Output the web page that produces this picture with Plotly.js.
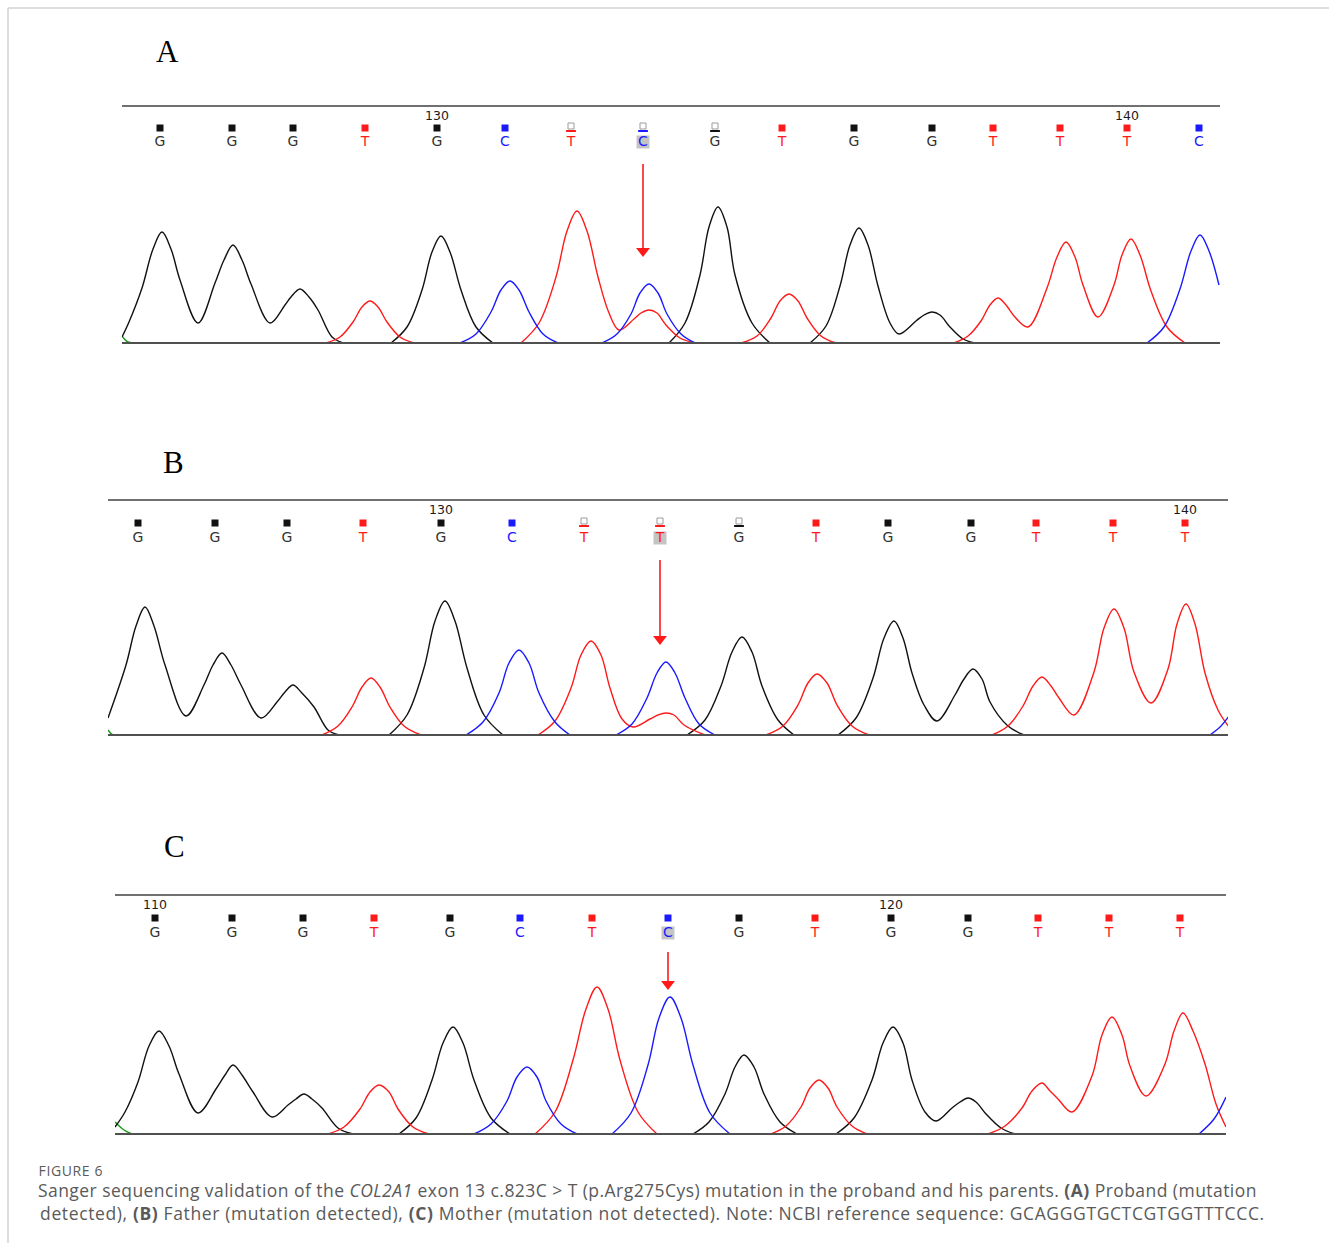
<!DOCTYPE html>
<html>
<head>
<meta charset="utf-8">
<script src="https://cdn.plot.ly/plotly-3.0.1.min.js"></script>
<style>
  html, body { margin: 0; padding: 0; background: #fff; }
  #chart { width: 1329px; height: 1243px; }
</style>
</head>
<body>
<div id="chart"></div>
<script>
// ---------------- DATA ----------------
// x = scan position along the trace, y = signal intensity above baseline.

// Panel A – proband
const A_bases    = ['G','G','G','T','G','C','T','C','G','T','G','G','T','T','T','C'];
const A_basePos  = [160,232,293,365,437,505,571,643,715,782,854,932,993,1060,1127,1199];
const A_lowQual  = [0,0,0,0,0,0,1,1,1,0,0,0,0,0,0,0];
const A_numLabels = ['130','140'];
const A_numPos    = [437,1127];
const A_mutIndex  = 7;
const A_G_x = [122,129,142,153,162,171,180,198,215,224,233,242,251,270,285,291,300,309,318,332,343,null,
               391,407,422,432,441,450,461,476,493,null,
               669,685,700,709,718,727,735,752,770,null,
               810,826,840,850,859,868,878,890,899,916,924,932,940,950,963,975];
const A_G_y = [6,21,55,94,111,94,63,20,60,83,98,83,59,20,38,46,54,46,33,6,0,null,
               0,16,53,91,107,91,53,16,0,null,
               0,20,68,116,136,116,68,20,0,null,
               0,17,57,98,115,98,57,20,9,22,28,31,28,16,4,0];
const A_T_x = [326,340,353,362,370,378,387,400,414,null,
               521,539,556,567,577,587,598,609,619,634,641,649,657,666,680,695,null,
               741,757,771,780,789,798,807,821,836,null,
               954,968,981,990,998,1006,1014,1028,1047,1057,1066,1075,1083,1098,1114,1122,1131,1140,1151,1167,1185];
const A_T_y = [0,6,21,36,42,36,21,6,0,null,
               0,20,66,112,132,112,66,30,13,24,30,33,30,18,5,0,null,
               0,7,25,42,49,42,25,7,0,null,
               0,7,22,38,45,38,27,16,55,86,101,86,58,26,58,88,104,88,52,16,0];
const A_C_x = [460,476,491,501,510,519,529,543,558,null,
               602,617,631,640,649,658,667,681,695,null,
               1147,1164,1180,1191,1200,1209,1219];
const A_C_y = [0,9,31,53,62,53,31,9,0,null,
               0,9,29,50,59,50,29,9,0,null,
               0,16,54,92,108,92,58];
const A_A_x = [122,128,139];
const A_A_y = [7,1,0];

// Panel B – father
const B_bases    = ['G','G','G','T','G','C','T','T','G','T','G','G','T','T','T'];
const B_basePos  = [138,215,287,363,441,512,584,660,739,816,888,971,1036,1113,1185];
const B_lowQual  = [0,0,0,0,0,0,1,1,1,0,0,0,0,0,0];
const B_numLabels = ['130','140'];
const B_numPos    = [441,1185];
const B_mutIndex  = 7;
const B_G_x = [108,126,136,145,154,165,186,204,213,222,231,241,261,277,285,293,301,314,328,339,null,
               389,407,424,435,445,455,467,484,503,null,
               687,705,721,732,742,752,762,778,794,null,
               838,856,873,884,894,903,912,924,937,955,964,973,982,990,1008,1024];
const B_G_y = [17,70,109,128,109,70,19,50,70,82,70,50,17,33,43,50,43,28,5,0,null,
               0,20,67,114,134,114,67,20,0,null,
               0,15,49,83,98,83,49,15,0,null,
               0,17,57,97,114,97,62,30,14,40,56,66,56,33,9,0];
const B_T_x = [322,338,352,362,371,380,390,404,421,null,
               538,555,571,581,591,601,610,622,633,650,658,666,674,684,705,null,
               766,783,798,808,817,827,837,852,869,null,
               992,1008,1023,1033,1042,1051,1059,1074,1094,1104,1114,1124,1134,1151,1168,1177,1186,1195,1205,1218,1229];
const B_T_y = [0,9,28,48,57,48,28,9,0,null,
               0,14,47,80,94,80,47,16,8,16,20,22,20,10,0,null,
               0,9,30,52,61,52,30,9,0,null,
               0,9,29,49,58,49,37,20,63,107,126,107,63,32,66,111,131,111,62,25,8];
const B_C_x = [466,483,499,509,519,529,539,555,570,null,
               616,632,647,657,666,675,685,699,715,null,
               1210,1220,1229];
const B_C_y = [0,13,42,72,85,72,42,13,0,null,
               0,11,37,62,73,62,37,11,0,null,
               0,8,19];
const B_A_x = [108,113,121];
const B_A_y = [5,0,0];

// Panel C – mother
const C_bases    = ['G','G','G','T','G','C','T','C','G','T','G','G','T','T','T'];
const C_basePos  = [155,232,303,374,450,520,592,668,739,815,891,968,1038,1109,1180];
const C_lowQual  = [0,0,0,0,0,0,0,0,0,0,0,0,0,0,0];
const C_numLabels = ['110','120'];
const C_numPos    = [155,891];
const C_mutIndex  = 7;
const C_G_x = [115,125,138,149,159,169,179,198,216,225,233,242,253,272,288,296,304,312,322,338,353,null,
               399,416,432,443,453,463,474,491,510,null,
               693,709,725,735,744,754,764,780,797,null,
               836,854,872,883,893,903,912,925,936,952,960,968,976,986,1001,1015];
const C_G_y = [7,22,52,88,103,88,60,21,45,59,69,59,42,17,29,35,40,35,26,6,0,null,
               0,16,54,91,107,91,54,16,0,null,
               0,12,40,67,79,67,40,12,0,null,
               0,16,54,91,107,91,54,22,13,26,32,36,32,20,6,0];
const C_T_x = [328,344,360,370,379,389,398,413,429,null,
               535,555,573,586,597,608,620,638,657,null,
               771,786,801,810,819,828,837,852,867,null,
               988,1005,1022,1032,1042,1050,1058,1072,1092,1102,1112,1122,1130,1146,1165,1174,1183,1193,1205,1216,1226];
const C_T_y = [0,7,25,42,49,42,25,7,0,null,
               0,22,74,125,147,125,74,22,0,null,
               0,8,27,46,54,46,27,8,0,null,
               0,8,26,43,51,43,35,22,58,99,117,99,68,38,70,103,121,103,70,30,7];
const C_C_x = [474,491,507,517,527,537,546,561,577,null,
               612,631,648,659,670,681,693,710,730,null,
               1199,1214,1226];
const C_C_y = [0,10,33,57,67,57,33,10,0,null,
               0,21,69,116,137,116,69,21,0,null,
               0,15,37];
const C_A_x = [115,124,132];
const C_A_y = [12,4,0];

// ---------------- STYLE / LAYOUT ----------------
const W = 1329, H = 1243;
const channelColor = { G: '#111111', T: '#ff1a1a', C: '#1a1aff', A: '#1a9a1a' };

const panels = [
  { label: 'A', bases: A_bases, pos: A_basePos, lowQ: A_lowQual, nums: A_numLabels, numPos: A_numPos, mut: A_mutIndex,
    ch: { A: [A_A_x, A_A_y], G: [A_G_x, A_G_y], T: [A_T_x, A_T_y], C: [A_C_x, A_C_y] },
    box: { left: 122, right: 1220, top: 106, base: 343 },
    st: { labelX: 167, labelY: 52, markY: 128, letterY: 142, numY: 116.5, arrowTop: 164, arrowTip: 257 } },
  { label: 'B', bases: B_bases, pos: B_basePos, lowQ: B_lowQual, nums: B_numLabels, numPos: B_numPos, mut: B_mutIndex,
    ch: { A: [B_A_x, B_A_y], G: [B_G_x, B_G_y], T: [B_T_x, B_T_y], C: [B_C_x, B_C_y] },
    box: { left: 108, right: 1228, top: 500, base: 735 },
    st: { labelX: 173, labelY: 462, markY: 523, letterY: 538, numY: 511, arrowTop: 560, arrowTip: 645 } },
  { label: 'C', bases: C_bases, pos: C_basePos, lowQ: C_lowQual, nums: C_numLabels, numPos: C_numPos, mut: C_mutIndex,
    ch: { A: [C_A_x, C_A_y], G: [C_G_x, C_G_y], T: [C_T_x, C_T_y], C: [C_C_x, C_C_y] },
    box: { left: 115, right: 1226, top: 895, base: 1134 },
    st: { labelX: 174, labelY: 847, markY: 918, letterY: 933, numY: 906, arrowTop: 952, arrowTip: 990 } }
];

const data = [];
const shapes = [];
const annotations = [];
const layout = {
  width: W, height: H,
  margin: { l: 0, r: 0, t: 0, b: 0, pad: 0 },
  paper_bgcolor: '#ffffff', plot_bgcolor: 'rgba(0,0,0,0)',
  showlegend: false,
  hovermode: false,
  font: { family: 'DejaVu Sans, sans-serif', color: '#222' }
};

panels.forEach((p, i) => {
  const sfx = i === 0 ? '' : String(i + 1);
  const xa = 'x' + sfx, ya = 'y' + sfx;
  const b = p.box, s = p.st;
  const yv = (py) => b.base - py;           // pixel row -> value above baseline

  layout['xaxis' + sfx] = { domain: [b.left / W, b.right / W], range: [b.left, b.right],
    visible: false, fixedrange: true, anchor: ya };
  layout['yaxis' + sfx] = { domain: [1 - b.base / H, 1 - b.top / H], range: [0, b.base - b.top],
    visible: false, fixedrange: true, anchor: xa };

  // chromatogram channels
  ['A', 'G', 'T', 'C'].forEach(k => {
    data.push({ type: 'scatter', mode: 'lines', x: p.ch[k][0], y: p.ch[k][1], xaxis: xa, yaxis: ya,
      line: { color: channelColor[k], width: 1.4, shape: 'spline', smoothing: 1 },
      connectgaps: false, hoverinfo: 'skip' });
  });

  // highlight behind mutated base letter
  data.push({ type: 'scatter', mode: 'markers', x: [p.pos[p.mut]], y: [yv(s.letterY)], xaxis: xa, yaxis: ya,
    marker: { symbol: 'square', size: 13, color: '#c4c4c4' }, cliponaxis: false, hoverinfo: 'skip' });

  // base-call quality squares
  const fx = [], fy = [], fc = [], ex = [], ey = [], dx = [], dy = [], dc = [];
  p.bases.forEach((bs, j) => {
    if (p.lowQ[j]) {
      ex.push(p.pos[j]); ey.push(yv(s.markY - 2));
      dx.push(p.pos[j]); dy.push(yv(s.markY + 3)); dc.push(channelColor[bs]);
    } else {
      fx.push(p.pos[j]); fy.push(yv(s.markY)); fc.push(channelColor[bs]);
    }
  });
  data.push({ type: 'scatter', mode: 'markers', x: fx, y: fy, xaxis: xa, yaxis: ya,
    marker: { symbol: 'square', size: 7, color: fc, line: { width: 0 } }, cliponaxis: false, hoverinfo: 'skip' });
  if (ex.length) {
    data.push({ type: 'scatter', mode: 'markers', x: ex, y: ey, xaxis: xa, yaxis: ya,
      marker: { symbol: 'square', size: 6, color: '#ffffff', line: { width: 1, color: '#9a9a9a' } }, cliponaxis: false, hoverinfo: 'skip' });
    data.push({ type: 'scatter', mode: 'markers', x: dx, y: dy, xaxis: xa, yaxis: ya,
      marker: { symbol: 'line-ew', size: 7, line: { width: 2, color: dc } }, cliponaxis: false, hoverinfo: 'skip' });
  }

  // base letters
  data.push({ type: 'scatter', mode: 'text', x: p.pos, y: p.bases.map(() => yv(s.letterY)), xaxis: xa, yaxis: ya,
    text: p.bases, textposition: 'middle center',
    textfont: { family: 'DejaVu Sans, sans-serif', size: 14, color: p.bases.map(bs => channelColor[bs] === '#111111' ? '#333333' : channelColor[bs]) },
    cliponaxis: false, hoverinfo: 'skip' });

  // position numbers
  data.push({ type: 'scatter', mode: 'text', x: p.numPos, y: p.numPos.map(() => yv(s.numY)), xaxis: xa, yaxis: ya,
    text: p.nums, textposition: 'middle center',
    textfont: { family: 'DejaVu Sans, sans-serif', size: 12.5, color: '#1a1a1a' }, cliponaxis: false, hoverinfo: 'skip' });

  // mutation arrow (line + triangular head)
  const ax = p.pos[p.mut];
  shapes.push({ type: 'line', xref: xa, yref: ya, x0: ax, x1: ax, y0: yv(s.arrowTop), y1: yv(s.arrowTip - 8),
    line: { color: '#ff1a1a', width: 1.6 } });
  data.push({ type: 'scatter', mode: 'markers', x: [ax], y: [yv(s.arrowTip - 6)], xaxis: xa, yaxis: ya,
    marker: { symbol: 'triangle-down', size: 12, color: '#ff1a1a', line: { width: 0 } }, cliponaxis: false, hoverinfo: 'skip' });

  // top rule and baseline
  shapes.push({ type: 'line', xref: 'paper', yref: 'paper', x0: b.left / W, x1: b.right / W,
    y0: 1 - b.top / H, y1: 1 - b.top / H, line: { color: '#707070', width: 2 } });
  shapes.push({ type: 'line', xref: 'paper', yref: 'paper', x0: b.left / W, x1: b.right / W,
    y0: 1 - b.base / H, y1: 1 - b.base / H, line: { color: '#505050', width: 2 } });

  // panel letter
  annotations.push({ xref: 'paper', yref: 'paper', x: s.labelX / W, y: 1 - s.labelY / H,
    xanchor: 'center', yanchor: 'middle', showarrow: false, text: p.label,
    font: { family: 'Liberation Serif, Times New Roman, serif', size: 31, color: '#000' } });
});

// frame of the figure box
shapes.push({ type: 'line', xref: 'paper', yref: 'paper', x0: 8 / W, x1: 1, y0: 1 - 8 / H, y1: 1 - 8 / H,
  line: { color: '#d2d2d2', width: 1.5 } });
shapes.push({ type: 'line', xref: 'paper', yref: 'paper', x0: 8 / W, x1: 8 / W, y0: 1 - 8 / H, y1: 0,
  line: { color: '#d2d2d2', width: 1.5 } });

// caption (centred on the original text extents, so the widened tracking grows symmetrically)
const capColor = '#5a5a5a';
annotations.push({ xref: 'paper', yref: 'paper', x: 71 / W, y: 1 - 1170 / H, xanchor: 'center', yanchor: 'middle',
  showarrow: false, text: 'FIGURE 6', font: { family: 'Open Sans, sans-serif', size: 14, color: capColor } });
annotations.push({ xref: 'paper', yref: 'paper', x: 647.5 / W, y: 1 - 1190 / H, xanchor: 'center', yanchor: 'middle',
  showarrow: false,
  text: 'Sanger sequencing validation of the <i>COL2A1</i> exon 13 c.823C &gt; T (p.Arg275Cys) mutation in the proband and his parents. <b>(A)</b> Proband (mutation',
  font: { family: 'Open Sans, sans-serif', size: 17.5, color: capColor } });
annotations.push({ xref: 'paper', yref: 'paper', x: 652.5 / W, y: 1 - 1213 / H, xanchor: 'center', yanchor: 'middle',
  showarrow: false,
  text: 'detected), <b>(B)</b> Father (mutation detected), <b>(C)</b> Mother (mutation not detected). Note: NCBI reference sequence: GCAGGGTGCTCGTGGTTTCCC.',
  font: { family: 'Open Sans, sans-serif', size: 17.5, color: capColor } });

layout.shapes = shapes;
layout.annotations = annotations;

Plotly.newPlot('chart', data, layout, { displayModeBar: false, staticPlot: true }).then(gd => {
  // the caption typeface of the original is wider than Open Sans: widen the tracking
  gd.querySelectorAll('.annotation-text').forEach(t => {
    const txt = t.textContent || '';
    if (txt.indexOf('detected), ') === 0) t.style.letterSpacing = '0.62px';
    else if (txt.length > 30) t.style.letterSpacing = '0.45px';
    else if (txt.length > 5) t.style.letterSpacing = '0.6px';
  });
});
</script>
</body>
</html>
